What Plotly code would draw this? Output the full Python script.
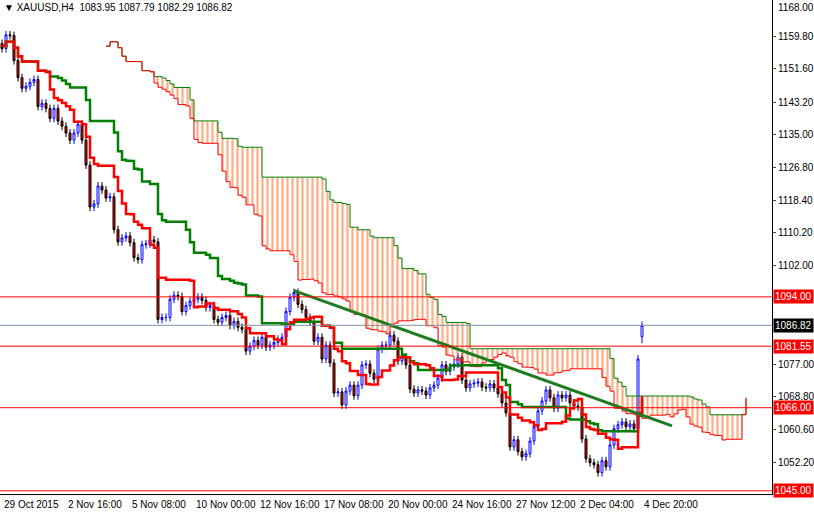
import plotly.graph_objects as go
import pandas as pd

closes = [1156.7,1160.2,1160.0,1153.7,1149.4,1146.7,1147.2,1148.2,1148.9,1142.1,
1142.9,1141.6,1139.1,1141.6,1138.4,1137.1,1135.4,1133.6,1135.4,1137.6,
1133.6,1127.3,1116.7,1117.5,1122.0,1121.0,1119.0,1119.3,1111.0,1107.9,
1108.9,1109.4,1107.7,1103.9,1103.4,1107.2,1107.4,1108.4,1107.9,1088.3,
1088.8,1088.8,1093.4,1094.4,1094.1,1090.3,1091.8,1092.9,1093.4,1093.9,
1093.1,1091.3,1091.8,1088.3,1087.6,1088.8,1089.3,1086.8,1087.8,1086.3,
1085.8,1080.3,1081.5,1083.0,1081.8,1083.8,1081.3,1081.8,1082.5,1083.3,
1083.8,1090.3,1093.9,1095.1,1092.1,1090.8,1088.8,1087.8,1082.8,1083.8,
1078.3,1081.8,1077.3,1069.7,1070.0,1066.7,1070.2,1071.7,1069.0,1071.7,
1076.8,1077.0,1074.7,1073.2,1080.8,1081.8,1081.8,1084.3,1082.8,1077.8,
1078.8,1076.8,1070.7,1069.7,1070.5,1070.2,1069.2,1071.0,1071.7,1073.5,
1076.8,1075.2,1076.3,1077.0,1078.8,1073.0,1071.0,1072.0,1072.2,1072.5,
1071.2,1071.0,1072.0,1071.0,1069.5,1067.2,1064.7,1056.1,1057.9,1054.9,
1053.6,1054.4,1057.6,1061.2,1065.2,1067.7,1070.5,1068.5,1065.9,1069.2,
1068.5,1069.2,1067.2,1066.4,1066.2,1058.1,1053.1,1052.1,1051.6,1049.6,
1052.6,1051.1,1056.6,1060.7,1061.7,1062.4,1061.2,1061.9,1060.7,1078.3,
1083.95]
first_open = 1158.0
last_bar = dict(o=1083.95, h=1087.79, l=1082.29, c=1086.82)
wick = 1.0

hlines = [1094.00, 1081.55, 1066.00, 1045.00]
current_price = 1086.82
trend_bars = [73, 167.5]
trend_prices = [1095.6, 1061.4]
top_tick = 1168.00
yticks = [1159.80,1151.60,1143.20,1135.00,1126.80,1118.40,1110.20,1102.00,1077.00,1068.80,1060.60,1052.20]
date_labels = ["29 Oct 2015","2 Nov 16:00","5 Nov 08:00","10 Nov 00:00","12 Nov 16:00","17 Nov 08:00",
               "20 Nov 00:00","24 Nov 16:00","27 Nov 12:00","2 Dec 04:00","4 Dec 20:00"]
date_bars = [0,16,32,48,64,80,96,112,128,144,160]

opens = [first_open] + closes[:-1]
cl = closes[:-1] + [last_bar["c"]]
opens[-1] = last_bar["o"]
highs = [max(o, c) + wick for o, c in zip(opens, cl)]
lows = [min(o, c) - wick for o, c in zip(opens, cl)]
highs[-1], lows[-1] = last_bar["h"], last_bar["l"]
n = len(cl)
x = list(range(n))
df = pd.DataFrame(dict(o=opens, h=highs, l=lows, c=cl))
mid = lambda p: (df.h.rolling(p, min_periods=1).max() + df.l.rolling(p, min_periods=1).min()) / 2
tenkan = mid(9); kijun = mid(26)
spanA = ((tenkan + kijun) / 2).tolist(); spanB = mid(52).tolist()
xs = [i + 26 for i in x]

FONT = "Liberation Sans"
fig = go.Figure()
fig.add_trace(go.Scatter(x=xs, y=spanB, mode="lines", line=dict(color="green", width=1, shape="hv"), hoverinfo="skip"))
fig.add_trace(go.Scatter(x=xs, y=spanA, mode="lines", line=dict(color="red", width=1, shape="hv"), fill="tonexty",
                         fillcolor="rgba(0,0,0,0)",
                         fillpattern=dict(shape="|", fgcolor="#FF6010", bgcolor="rgba(255,255,255,0)", size=5, solidity=0.45),
                         hoverinfo="skip"))
for v in hlines:
    fig.add_hline(y=v, line=dict(color="red", width=1))
fig.add_hline(y=current_price, line=dict(color="#8090A0", width=1))
fig.add_trace(go.Scatter(x=x, y=kijun, mode="lines", line=dict(color="green", width=2.5, shape="hv")))
fig.add_trace(go.Scatter(x=x, y=tenkan, mode="lines", line=dict(color="red", width=2.5, shape="hv")))
fig.add_trace(go.Candlestick(x=x, open=opens, high=highs, low=lows, close=cl, whiskerwidth=0,
    increasing=dict(line=dict(color="blue", width=1), fillcolor="white"),
    decreasing=dict(line=dict(color="black", width=1), fillcolor="red")))
fig.add_trace(go.Scatter(x=trend_bars, y=trend_prices, mode="lines", line=dict(color="#1E7B1E", width=3)))

for v in hlines + [current_price]:
    fig.add_annotation(x=1, xref="paper", y=v, xanchor="left", text=f"{v:.2f}", showarrow=False, xshift=1,
                       bgcolor="black" if v == current_price else "red", font=dict(color="white", size=10, family=FONT),
                       borderpad=1)
fig.add_annotation(x=1, xref="paper", y=top_tick, xanchor="left", yanchor="top", text=f"{top_tick:.2f}", showarrow=False,
                   xshift=4, yshift=4, font=dict(color="black", size=10, family=FONT))
for b, t in zip(date_bars, date_labels):
    fig.add_annotation(x=b, y=0, yref="paper", yanchor="top", xanchor="left", text=t, showarrow=False,
                       font=dict(size=10, family=FONT, color="black"), yshift=-3)
fig.add_annotation(x=0.002, xref="paper", y=1, yref="paper", xanchor="left", yanchor="top", showarrow=False,
                   text="▼ XAUUSD,H4  1083.95 1087.79 1082.29 1086.82", font=dict(size=10, family=FONT, color="black"))

fig.update_layout(width=814, height=516, margin=dict(l=0, r=42, t=0, b=22, autoexpand=False), showlegend=False,
                  plot_bgcolor="white", paper_bgcolor="white",
                  xaxis=dict(range=[-0.5, 192.5], showgrid=False, showticklabels=False, rangeslider=dict(visible=False),
                             showline=True, linecolor="black", mirror=False, zeroline=False, ticks=""),
                  yaxis=dict(range=[1044.2, 1169.0], side="right", tickvals=yticks, ticktext=[f"{v:.2f}" for v in yticks],
                             showgrid=False, showline=True, linecolor="black", ticks="outside", ticklen=3,
                             tickfont=dict(size=10, family=FONT, color="black"), zeroline=False))
fig.write_html("out.html", config={"displayModeBar": False},
               post_script="document.body.style.margin='0px';document.body.style.overflow='hidden';")
